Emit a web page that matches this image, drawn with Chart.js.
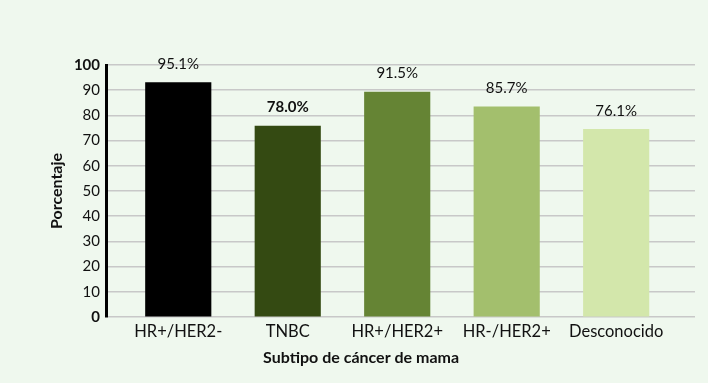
<!DOCTYPE html>
<html><head><meta charset="utf-8">
<script src="https://cdn.jsdelivr.net/npm/chart.js@4/dist/chart.umd.min.js"></script>
<style>html,body{margin:0;padding:0;background:#eff8ee;}#wrap{width:708px;height:383px;}</style>
</head><body><div id="wrap"><canvas id="c" width="708" height="383"></canvas></div>
<script>
const categories = ['HR+/HER2-','TNBC','HR+/HER2+','HR-/HER2+','Desconocido'];
const values = [93.0, 75.8, 89.3, 83.4, 74.5];
const valueLabels = ['95.1%','78.0%','91.5%','85.7%','76.1%'];
const boldLabel = [false, true, false, false, false];
const colors = ['#000000','#344a12','#658434','#a3bf6d','#d3e7ab'];
const yTicks = [0,10,20,30,40,50,60,70,80,90,100];
const xTitle = 'Subtipo de cáncer de mama';

const FONT = 'Lato, "Open Sans", sans-serif';

const labelPlugin = {
  id: 'valLabels',
  afterDatasetsDraw(chart) {
    const ctx = chart.ctx;
    const meta = chart.getDatasetMeta(0);
    ctx.save();
    ctx.textAlign = 'center';
    ctx.textBaseline = 'bottom';
    ctx.fillStyle = '#111';
    meta.data.forEach((bar, i) => {
      ctx.font = (boldLabel[i] ? 'bold ' : '') + '15px ' + FONT;
      ctx.fillText(valueLabels[i], bar.x, bar.y - 11);
    });
    // x axis title
    const xs = chart.scales.x;
    ctx.font = 'bold 16px ' + FONT;
    ctx.textBaseline = 'middle';
    ctx.fillText(xTitle, xs.getPixelForValue(1.67), xs.bottom - 25);
    ctx.restore();
  }
};

new Chart(document.getElementById('c'), {
  type: 'bar',
  data: {
    datasets: [{
      data: categories.map((c, i) => ({x: i, y: values[i]})),
      backgroundColor: colors,
      barThickness: 65.5,
      borderWidth: 0
    }]
  },
  options: {
    responsive: false,
    animation: false,
    devicePixelRatio: 1,
    layout: {padding: {top: 65, right: 13, bottom: 0, left: 0}},
    plugins: {legend: {display: false}, tooltip: {enabled: false}},
    scales: {
      x: {
        type: 'linear',
        offset: false,
        min: -0.66,
        max: 4.72,
        grid: {display: false, drawTicks: false, offset: false},
        border: {display: false},
        afterFit(s) { s.height = 66; },
        ticks: {
          stepSize: 1,
          includeBounds: false,
          autoSkip: false,
          maxRotation: 0,
          padding: 5,
          color: '#111',
          font: {family: FONT, size: 16.5},
          callback: v => (Number.isInteger(v) && categories[v] !== undefined) ? categories[v] : ''
        },
        title: {display: false}
      },
      y: {
        min: 0,
        max: 100,
        afterFit(s) { s.width = 106; },
        afterBuildTicks(s) { s.ticks = yTicks.map(v => ({value: v})); },
        grid: {color: '#c8c8c8', lineWidth: 1.5, drawTicks: false},
        border: {display: true, color: '#000', width: 3},
        ticks: {
          padding: 6,
          color: '#111',
          font: ctx => ({family: FONT, size: 15, weight: (ctx.tick && (ctx.tick.value === 0 || ctx.tick.value === 100)) ? 'bold' : 'normal'})
        },
        title: {
          display: true,
          text: 'Porcentaje',
          color: '#111',
          font: {family: FONT, size: 16, weight: 'bold'},
          padding: {top: 47, bottom: 0}
        }
      }
    }
  },
  plugins: [labelPlugin]
});
</script>
</body></html>
